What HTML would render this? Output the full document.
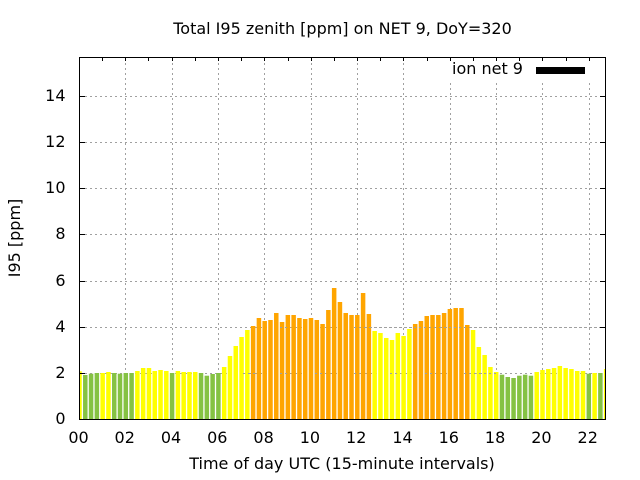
<!DOCTYPE html>
<html>
<head>
<meta charset="utf-8">
<style>
  html, body { margin: 0; padding: 0; background: #ffffff; }
  svg { display: block; }
  text { font-family: "DejaVu Sans", "Liberation Sans", sans-serif; font-size: 16px; fill: #000; }
</style>
</head>
<body>
<svg width="640" height="480" viewBox="0 0 640 480" xmlns="http://www.w3.org/2000/svg">
  <rect x="0" y="0" width="640" height="480" fill="#ffffff"/>
  <defs>
    <clipPath id="plot">
      <rect x="80" y="58" width="525" height="361"/>
    </clipPath>
  </defs>

  <!-- grid (back) -->
  <g stroke="#a0a0a0" stroke-width="1" stroke-dasharray="2,3" fill="none">
    <line x1="80" y1="373.5" x2="605" y2="373.5"/>
    <line x1="80" y1="327.5" x2="605" y2="327.5"/>
    <line x1="80" y1="281.5" x2="605" y2="281.5"/>
    <line x1="80" y1="234.5" x2="605" y2="234.5"/>
    <line x1="80" y1="188.5" x2="605" y2="188.5"/>
    <line x1="80" y1="142.5" x2="605" y2="142.5"/>
    <line x1="80" y1="96.5" x2="605" y2="96.5"/>
    <line x1="125.5" y1="58" x2="125.5" y2="419"/>
    <line x1="172.5" y1="58" x2="172.5" y2="419"/>
    <line x1="218.5" y1="58" x2="218.5" y2="419"/>
    <line x1="264.5" y1="58" x2="264.5" y2="419"/>
    <line x1="311.5" y1="58" x2="311.5" y2="419"/>
    <line x1="357.5" y1="58" x2="357.5" y2="419"/>
    <line x1="403.5" y1="58" x2="403.5" y2="419"/>
    <line x1="450.5" y1="58" x2="450.5" y2="419"/>
    <line x1="496.5" y1="58" x2="496.5" y2="419"/>
    <line x1="542.5" y1="58" x2="542.5" y2="419"/>
    <line x1="589.5" y1="58" x2="589.5" y2="419"/>
  </g>

  <!-- key background -->
  <rect x="445" y="58" width="160" height="22" fill="#ffffff"/>

  <!-- bars -->
  <g clip-path="url(#plot)">
    <rect x="77.25" y="371.3" width="4.5" height="47.7" fill="#ffff00"/>
    <rect x="83.04" y="375" width="4.5" height="44" fill="#85c243"/>
    <rect x="88.83" y="373.7" width="4.5" height="45.3" fill="#85c243"/>
    <rect x="94.61" y="373" width="4.5" height="46" fill="#85c243"/>
    <rect x="100.40" y="373" width="4.5" height="46" fill="#ffff00"/>
    <rect x="106.19" y="372" width="4.5" height="47" fill="#ffff00"/>
    <rect x="111.98" y="373" width="4.5" height="46" fill="#85c243"/>
    <rect x="117.76" y="373.7" width="4.5" height="45.3" fill="#85c243"/>
    <rect x="123.55" y="373" width="4.5" height="46" fill="#85c243"/>
    <rect x="129.34" y="373" width="4.5" height="46" fill="#85c243"/>
    <rect x="135.13" y="371" width="4.5" height="48" fill="#ffff00"/>
    <rect x="140.91" y="368" width="4.5" height="51" fill="#ffff00"/>
    <rect x="146.70" y="368" width="4.5" height="51" fill="#ffff00"/>
    <rect x="152.49" y="371" width="4.5" height="48" fill="#ffff00"/>
    <rect x="158.28" y="370" width="4.5" height="49" fill="#ffff00"/>
    <rect x="164.06" y="371" width="4.5" height="48" fill="#ffff00"/>
    <rect x="169.85" y="373" width="4.5" height="46" fill="#85c243"/>
    <rect x="175.64" y="371" width="4.5" height="48" fill="#ffff00"/>
    <rect x="181.43" y="372" width="4.5" height="47" fill="#ffff00"/>
    <rect x="187.21" y="372" width="4.5" height="47" fill="#ffff00"/>
    <rect x="193.00" y="372" width="4.5" height="47" fill="#ffff00"/>
    <rect x="198.79" y="373" width="4.5" height="46" fill="#85c243"/>
    <rect x="204.58" y="375.7" width="4.5" height="43.3" fill="#85c243"/>
    <rect x="210.36" y="374" width="4.5" height="45" fill="#85c243"/>
    <rect x="216.15" y="373" width="4.5" height="46" fill="#85c243"/>
    <rect x="221.94" y="367" width="4.5" height="52" fill="#ffff00"/>
    <rect x="227.73" y="356" width="4.5" height="63" fill="#ffff00"/>
    <rect x="233.51" y="346" width="4.5" height="73" fill="#ffff00"/>
    <rect x="239.30" y="337" width="4.5" height="82" fill="#ffff00"/>
    <rect x="245.09" y="330" width="4.5" height="89" fill="#ffff00"/>
    <rect x="250.88" y="326" width="4.5" height="93" fill="#ffa500"/>
    <rect x="256.66" y="318" width="4.5" height="101" fill="#ffa500"/>
    <rect x="262.45" y="321" width="4.5" height="98" fill="#ffa500"/>
    <rect x="268.24" y="320" width="4.5" height="99" fill="#ffa500"/>
    <rect x="274.03" y="313" width="4.5" height="106" fill="#ffa500"/>
    <rect x="279.81" y="322" width="4.5" height="97" fill="#ffa500"/>
    <rect x="285.60" y="315" width="4.5" height="104" fill="#ffa500"/>
    <rect x="291.39" y="315" width="4.5" height="104" fill="#ffa500"/>
    <rect x="297.18" y="318" width="4.5" height="101" fill="#ffa500"/>
    <rect x="302.96" y="319" width="4.5" height="100" fill="#ffa500"/>
    <rect x="308.75" y="318" width="4.5" height="101" fill="#ffa500"/>
    <rect x="314.54" y="320" width="4.5" height="99" fill="#ffa500"/>
    <rect x="320.33" y="324" width="4.5" height="95" fill="#ffa500"/>
    <rect x="326.11" y="310" width="4.5" height="109" fill="#ffa500"/>
    <rect x="331.90" y="288" width="4.5" height="131" fill="#ffa500"/>
    <rect x="337.69" y="302" width="4.5" height="117" fill="#ffa500"/>
    <rect x="343.48" y="313" width="4.5" height="106" fill="#ffa500"/>
    <rect x="349.26" y="315" width="4.5" height="104" fill="#ffa500"/>
    <rect x="355.05" y="315" width="4.5" height="104" fill="#ffa500"/>
    <rect x="360.84" y="293" width="4.5" height="126" fill="#ffa500"/>
    <rect x="366.63" y="314" width="4.5" height="105" fill="#ffa500"/>
    <rect x="372.41" y="331" width="4.5" height="88" fill="#ffff00"/>
    <rect x="378.20" y="333" width="4.5" height="86" fill="#ffff00"/>
    <rect x="383.99" y="338" width="4.5" height="81" fill="#ffff00"/>
    <rect x="389.78" y="340" width="4.5" height="79" fill="#ffff00"/>
    <rect x="395.56" y="333" width="4.5" height="86" fill="#ffff00"/>
    <rect x="401.35" y="336" width="4.5" height="83" fill="#ffff00"/>
    <rect x="407.14" y="329" width="4.5" height="90" fill="#ffff00"/>
    <rect x="412.93" y="324" width="4.5" height="95" fill="#ffa500"/>
    <rect x="418.71" y="321" width="4.5" height="98" fill="#ffa500"/>
    <rect x="424.50" y="316" width="4.5" height="103" fill="#ffa500"/>
    <rect x="430.29" y="315" width="4.5" height="104" fill="#ffa500"/>
    <rect x="436.08" y="315" width="4.5" height="104" fill="#ffa500"/>
    <rect x="441.86" y="313" width="4.5" height="106" fill="#ffa500"/>
    <rect x="447.65" y="309" width="4.5" height="110" fill="#ffa500"/>
    <rect x="453.44" y="308" width="4.5" height="111" fill="#ffa500"/>
    <rect x="459.23" y="308" width="4.5" height="111" fill="#ffa500"/>
    <rect x="465.01" y="325" width="4.5" height="94" fill="#ffa500"/>
    <rect x="470.80" y="330" width="4.5" height="89" fill="#ffff00"/>
    <rect x="476.59" y="347" width="4.5" height="72" fill="#ffff00"/>
    <rect x="482.38" y="355" width="4.5" height="64" fill="#ffff00"/>
    <rect x="488.16" y="367" width="4.5" height="52" fill="#ffff00"/>
    <rect x="493.95" y="372" width="4.5" height="47" fill="#ffff00"/>
    <rect x="499.74" y="374.7" width="4.5" height="44.3" fill="#85c243"/>
    <rect x="505.53" y="377" width="4.5" height="42" fill="#85c243"/>
    <rect x="511.31" y="378" width="4.5" height="41" fill="#85c243"/>
    <rect x="517.10" y="375.7" width="4.5" height="43.3" fill="#85c243"/>
    <rect x="522.89" y="374.7" width="4.5" height="44.3" fill="#85c243"/>
    <rect x="528.68" y="375.7" width="4.5" height="43.3" fill="#85c243"/>
    <rect x="534.46" y="372" width="4.5" height="47" fill="#ffff00"/>
    <rect x="540.25" y="370" width="4.5" height="49" fill="#ffff00"/>
    <rect x="546.04" y="369" width="4.5" height="50" fill="#ffff00"/>
    <rect x="551.83" y="368" width="4.5" height="51" fill="#ffff00"/>
    <rect x="557.61" y="366" width="4.5" height="53" fill="#ffff00"/>
    <rect x="563.40" y="368" width="4.5" height="51" fill="#ffff00"/>
    <rect x="569.19" y="369" width="4.5" height="50" fill="#ffff00"/>
    <rect x="574.98" y="371" width="4.5" height="48" fill="#ffff00"/>
    <rect x="580.76" y="371" width="4.5" height="48" fill="#ffff00"/>
    <rect x="586.55" y="373.7" width="4.5" height="45.3" fill="#85c243"/>
    <rect x="592.34" y="373" width="4.5" height="46" fill="#ffff00"/>
    <rect x="598.13" y="373" width="4.5" height="46" fill="#85c243"/>
    <rect x="603.91" y="369" width="4.5" height="50" fill="#ffff00"/>
  </g>

  <!-- partial grid segments appearing in front -->
  <g stroke="#a0a0a0" stroke-width="1" stroke-dasharray="2,3" fill="none">
    <line x1="354" y1="327.5" x2="605" y2="327.5"/>
    <line x1="280" y1="327.5" x2="290" y2="327.5"/>
    <line x1="243" y1="373.5" x2="255" y2="373.5"/>
    <line x1="280" y1="373.5" x2="290" y2="373.5"/>
    <line x1="315" y1="373.5" x2="325" y2="373.5"/>
    <line x1="354" y1="373.5" x2="360" y2="373.5"/>
    <line x1="390" y1="373.5" x2="400" y2="373.5"/>
    <line x1="425" y1="373.5" x2="435" y2="373.5"/>
    <line x1="464" y1="373.5" x2="498" y2="373.5"/>
  </g>

  <!-- ticks -->
  <g stroke="#000" stroke-width="1">
    <line x1="80" y1="373.5" x2="85" y2="373.5"/>
    <line x1="80" y1="327.5" x2="85" y2="327.5"/>
    <line x1="80" y1="281.5" x2="85" y2="281.5"/>
    <line x1="80" y1="234.5" x2="85" y2="234.5"/>
    <line x1="80" y1="188.5" x2="85" y2="188.5"/>
    <line x1="80" y1="142.5" x2="85" y2="142.5"/>
    <line x1="80" y1="96.5" x2="85" y2="96.5"/>
    <line x1="600" y1="327.5" x2="605" y2="327.5"/>
    <line x1="600" y1="281.5" x2="605" y2="281.5"/>
    <line x1="600" y1="234.5" x2="605" y2="234.5"/>
    <line x1="600" y1="188.5" x2="605" y2="188.5"/>
    <line x1="600" y1="142.5" x2="605" y2="142.5"/>
    <line x1="600" y1="96.5" x2="605" y2="96.5"/>
    <line x1="102.5" y1="58" x2="102.5" y2="61"/>
    <line x1="125.5" y1="58" x2="125.5" y2="61"/>
    <line x1="148.5" y1="58" x2="148.5" y2="61"/>
    <line x1="172.5" y1="58" x2="172.5" y2="61"/>
    <line x1="195.5" y1="58" x2="195.5" y2="61"/>
    <line x1="218.5" y1="58" x2="218.5" y2="61"/>
    <line x1="241.5" y1="58" x2="241.5" y2="61"/>
    <line x1="264.5" y1="58" x2="264.5" y2="61"/>
    <line x1="288.5" y1="58" x2="288.5" y2="61"/>
    <line x1="311.5" y1="58" x2="311.5" y2="61"/>
    <line x1="334.5" y1="58" x2="334.5" y2="61"/>
    <line x1="357.5" y1="58" x2="357.5" y2="61"/>
    <line x1="380.5" y1="58" x2="380.5" y2="61"/>
    <line x1="403.5" y1="58" x2="403.5" y2="61"/>
    <line x1="427.5" y1="58" x2="427.5" y2="61"/>
    <line x1="450.5" y1="58" x2="450.5" y2="61"/>
    <line x1="473.5" y1="58" x2="473.5" y2="61"/>
    <line x1="496.5" y1="58" x2="496.5" y2="61"/>
    <line x1="519.5" y1="58" x2="519.5" y2="61"/>
    <line x1="542.5" y1="58" x2="542.5" y2="61"/>
    <line x1="566.5" y1="58" x2="566.5" y2="61"/>
    <line x1="589.5" y1="58" x2="589.5" y2="61"/>
  </g>

  <!-- border -->
  <rect x="79.5" y="57.5" width="526" height="362" fill="none" stroke="#000" stroke-width="1"/>

  <!-- y tick labels -->
  <g text-anchor="end">
    <text x="65.5" y="424">0</text>
    <text x="65.5" y="378">2</text>
    <text x="65.5" y="332">4</text>
    <text x="65.5" y="286">6</text>
    <text x="65.5" y="239">8</text>
    <text x="65.5" y="193">10</text>
    <text x="65.5" y="147">12</text>
    <text x="65.5" y="101">14</text>
  </g>

  <!-- x tick labels -->
  <g text-anchor="middle">
    <text x="78.5" y="443">00</text>
    <text x="124.7" y="443">02</text>
    <text x="171" y="443">04</text>
    <text x="217.3" y="443">06</text>
    <text x="263.6" y="443">08</text>
    <text x="309.9" y="443">10</text>
    <text x="356.2" y="443">12</text>
    <text x="402.5" y="443">14</text>
    <text x="448.8" y="443">16</text>
    <text x="495.1" y="443">18</text>
    <text x="541.4" y="443">20</text>
    <text x="587.7" y="443">22</text>
  </g>

  <!-- title and labels -->
  <text x="342.5" y="34" text-anchor="middle">Total I95 zenith [ppm] on NET 9, DoY=320</text>
  <text x="342" y="469" text-anchor="middle">Time of day UTC (15-minute intervals)</text>
  <text transform="translate(20,238) rotate(-90)" text-anchor="middle">I95 [ppm]</text>

  <!-- legend -->
  <text x="452" y="74">ion net 9</text>
  <rect x="536" y="67" width="49" height="7" fill="#000"/>
</svg>
</body>
</html>
